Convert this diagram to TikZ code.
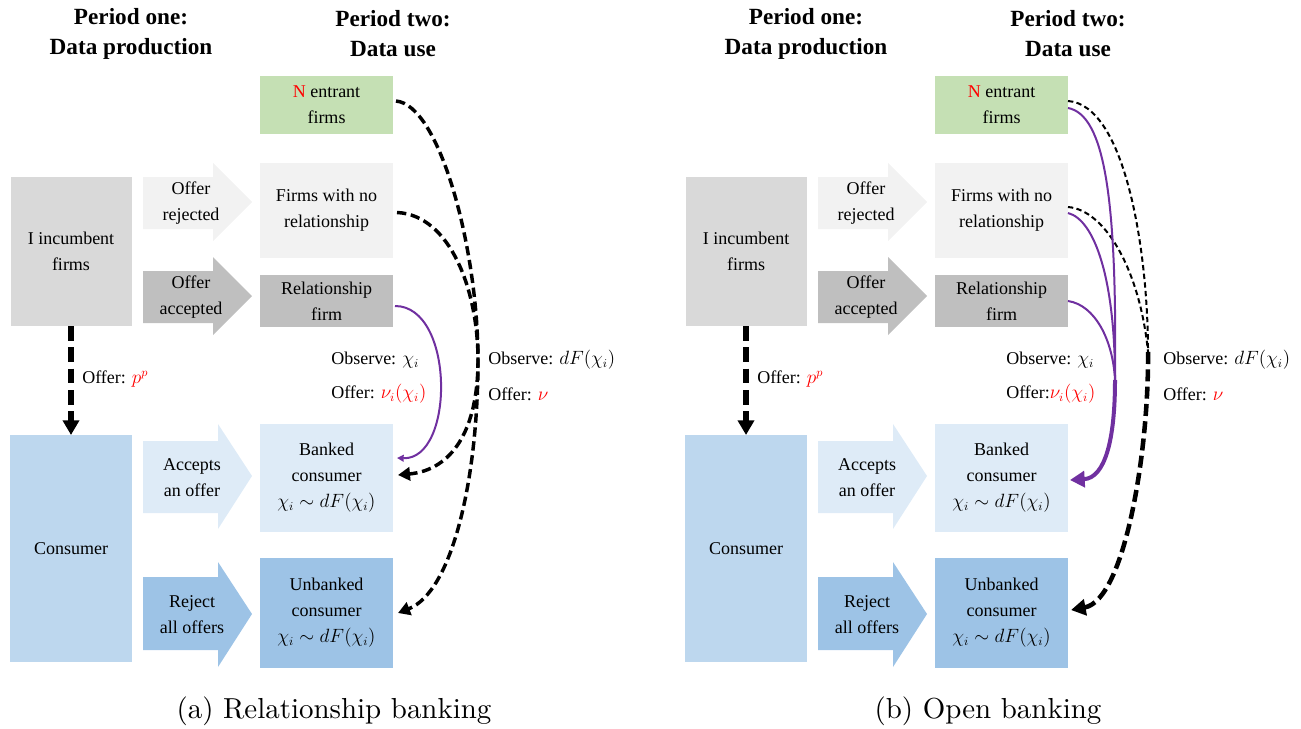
\documentclass[tikz,border=0pt]{standalone}
\usepackage{fontspec}
\newfontfamily\tnr{Liberation Serif}
\usetikzlibrary{arrows.meta,calc}
\definecolor{cGreen}{HTML}{C5E0B4}
\definecolor{cLight}{HTML}{F2F2F2}
\definecolor{cMid}{HTML}{D9D9D9}
\definecolor{cDark}{HTML}{BFBFBF}
\definecolor{cBlueL}{HTML}{DEEBF7}
\definecolor{cBlueM}{HTML}{BDD7EE}
\definecolor{cBlueD}{HTML}{9DC3E6}
\definecolor{cPurple}{HTML}{7030A0}
\definecolor{cRed}{HTML}{FF0000}
\tikzset{
 box/.style={rectangle, inner sep=0pt, outer sep=0pt, align=center, font=\tnr\fontsize{13.5}{19.5}\selectfont},
 atext/.style={inner sep=0pt, align=center, font=\tnr\fontsize{13.5}{19.5}\selectfont},
 lbl/.style={inner sep=0pt, anchor=west, font=\tnr\fontsize{13.5}{16}\selectfont},
 hdr/.style={align=center, inner sep=0pt, font=\tnr\bfseries\fontsize{17.4}{22.5}\selectfont},
 captext/.style={inner sep=0pt, font=\fontsize{10}{12}\selectfont, scale=2.17, transform shape},
 vdash/.style={line width=4.2pt, dash pattern=on 11pt off 5pt, -{Triangle[length=11pt,width=12pt]}},
 dA/.style={line width=2.6pt, dash pattern=on 7pt off 3.5pt, -{Triangle[length=9pt,width=10pt]}},
 dThin/.style={line width=1.5pt, dash pattern=on 4pt off 2.5pt},
 dThick/.style={line width=3.4pt, dash pattern=on 9pt off 4pt, -{Triangle[length=11pt,width=12pt]}},
 purp/.style={draw=cPurple, line width=1.5pt},
 purpThick/.style={draw=cPurple, line width=3pt, -{Triangle[length=11pt,width=12pt]}},
}
\newcommand\drawpanel[1]{%
 \fill[cLight] (143,177) -- (213,177) -- (213,163) -- (252,202) -- (213,241) -- (213,229) -- (143,229) -- cycle;
 \fill[cDark] (143,271) -- (213,271) -- (213,257) -- (252,296) -- (213,335) -- (213,323) -- (143,323) -- cycle;
 \fill[cBlueL] (143,441) -- (218,441) -- (218,424) -- (252,476) -- (218,529) -- (218,513) -- (143,513) -- cycle;
 \fill[cBlueD] (143,577) -- (218,577) -- (218,562) -- (252,614) -- (218,667) -- (218,650) -- (143,650) -- cycle;
 \node[atext] (torej#1) at (191,203) {Offer\\rejected};
 \node[atext] (toacc#1) at (191,297) {Offer\\accepted};
 \node[atext] (tacc#1) at (192,478) {Accepts\\an offer};
 \node[atext] (trej#1) at (192,615) {Reject\\all offers};
 \node[hdr] (hone#1) at (131,34) {Period one:\\Data production};
 \node[hdr] (htwo#1) at (393,34) {Period two:\\Data use};
 \node[box, fill=cMid, minimum width=90.75pt, minimum height=111.75pt] (inc#1) at (71,251.5) {I incumbent\\firms};
 \node[box, fill=cBlueM, minimum width=91.5pt, minimum height=170.25pt] (cons#1) at (71,548.5) {Consumer};
 \node[box, fill=cGreen, minimum width=99.75pt, minimum height=43.5pt] (nent#1) at (326.5,105) {\textcolor{cRed}{N} entrant\\firms};
 \node[box, fill=cLight, minimum width=99.75pt, minimum height=71.25pt] (fnr#1) at (326.5,210.5) {Firms with no\\relationship};
 \node[box, fill=cDark, minimum width=99.75pt, minimum height=39pt] (rel#1) at (326.5,301) {Relationship\\firm};
 \node[box, fill=cBlueL, minimum width=99.75pt, minimum height=81pt] (bank#1) at (326.5,478) {Banked\\consumer\\$\chi_i\sim dF(\chi_i)$};
 \node[box, fill=cBlueD, minimum width=99.75pt, minimum height=82.5pt] (unb#1) at (326.5,613) {Unbanked\\consumer\\$\chi_i\sim dF(\chi_i)$};
 \draw[vdash] (inc#1.south) -- (cons#1.north);
 \node[lbl] (offp#1) at (82,379) {Offer: \textcolor{cRed}{$p^p$}};
}
\begin{document}
\begin{tikzpicture}[x=0.75pt, y=-0.75pt]
\useasboundingbox (0,0) rectangle (1301,728);
\drawpanel{a}
\begin{scope}[xshift=506.25pt]
\drawpanel{b}
\end{scope}
% panel (a) connectors
\draw[purp, -{Triangle[length=5pt,width=5pt]}] ($(rela.east)+(2,5)$) .. controls (455,306) and (455,460) .. ($(banka.east)+(4,-20)$);
\draw[dA] ($(nenta.east)+(3,-4)$) .. controls (440,105) and (478,250) .. (478,360) .. controls (478,480) and (452,592) .. ($(unba.east)+(5,0)$);
\draw[dA] ($(fnra.east)+(4,2)$) .. controls (450,215) and (478,290) .. (478,360) .. controls (478,430) and (452,470) .. ($(banka.east)+(5,-3)$);
\node[lbl] (obsa) at (331,360) {Observe: $\chi_i$};
\node[lbl] (offa) at (331,394) {Offer: \textcolor{cRed}{$\nu_i(\chi_i)$}};
\node[lbl] (obsda) at (488,360) {Observe: $dF(\chi_i)$};
\node[lbl] (offna) at (488,394) {Offer: \textcolor{cRed}{$\nu$}};
% panel (b) connectors
\coordinate (mb) at (1148,352);
\coordinate (pmb) at (1115,380);
\draw[dThin] ($(nentb.east)+(0,-4)$) .. controls (1125,105) and (1148,250) .. (mb);
\draw[dThin] ($(fnrb.east)+(0,-3.5)$) .. controls (1105,210) and (1140,270) .. (mb);
\draw[dThick] (mb) .. controls (1149,450) and (1125,600) .. ($(unbb.east)+(3,-3)$);
\draw[purp] ($(nentb.east)+(0,3)$) .. controls (1105,115) and (1117,200) .. (pmb);
\draw[purp] ($(fnrb.east)+(0,2.5)$) .. controls (1095,220) and (1115,280) .. (pmb);
\draw[purp] (relb.east) .. controls (1095,305) and (1113,340) .. (pmb);
\draw[purpThick] (pmb) .. controls (1115,440) and (1105,478) .. ($(bankb.east)+(2,2)$);
\node[lbl] (obsb) at (1006,360) {Observe: $\chi_i$};
\node[lbl] (offb) at (1006,394) {Offer:\textcolor{cRed}{$\nu_i(\chi_i)$}};
\node[lbl] (obsdb) at (1163,360) {Observe: $dF(\chi_i)$};
\node[lbl] (offnb) at (1163,394) {Offer: \textcolor{cRed}{$\nu$}};
% captions
\node[captext] (capa) at (334,711) {(a) Relationship banking};
\node[captext] (capb) at (988,711) {(b) Open banking};
\end{tikzpicture}
\end{document}
